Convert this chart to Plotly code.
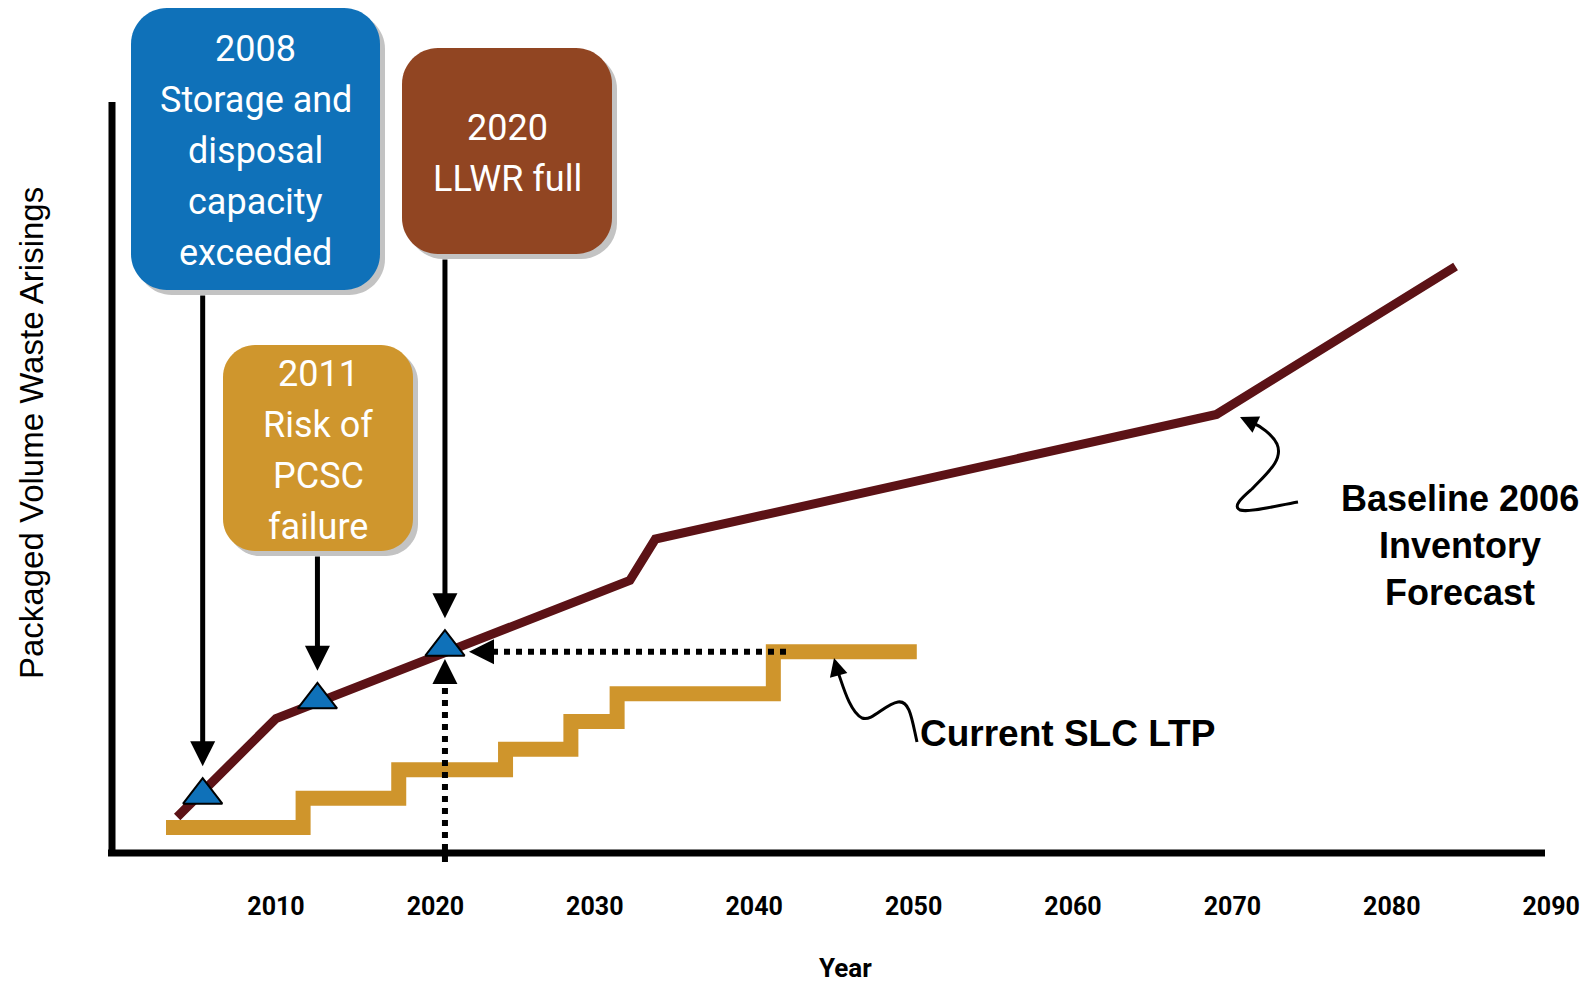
import plotly.graph_objects as go

# ---------------- data ----------------
tick_years = [2010, 2020, 2030, 2040, 2050, 2060, 2070, 2080, 2090]
tick_text = [str(t) for t in tick_years]

baseline_years = [2003.8, 2010.0, 2032.2, 2033.8, 2069.0, 2084.0]
baseline_values = [4.8, 17.9, 36.3, 41.8, 58.4, 78.1]

ltp_years = [2003.1, 2011.7, 2017.7, 2024.4, 2028.5, 2031.4, 2041.2, 2050.2]
ltp_values = [3.4, 7.3, 11.1, 13.8, 17.5, 21.2, 26.8, 26.8]

event_years = [2005.4, 2012.6, 2020.6]
event_values = [7.7, 20.4, 27.4]
event_texts = [
    "2008<br>Storage and<br>disposal<br>capacity<br>exceeded",
    "2011<br>Risk of<br>PCSC<br>failure",
    "2020<br>LLWR full",
]
event_colors = ["#0F71B9", "#CF962D", "#914522"]

# ---------------- layout geometry (page pixels -> axis units) ----------------
W, H = 1592, 983
OFF = 8                    # page offset of the figure (body margin)
PB = 862                   # plot area height in figure px
PX_PER_YEAR = 15.94
PX_PER_UNIT = 7.51
AXIS_PY = 853              # page y of the x-axis line


def dx(px):
    return 2010 + (px - 276) / PX_PER_YEAR


def dy(py):
    return (AXIS_PY - py) / PX_PER_UNIT


def paper_y(py):
    return (PB + OFF - py) / PB


# box rectangles in page px: left, top, right, bottom, corner radius
boxes_px = [(131, 8, 380, 290, 36), (223, 345, 413, 551, 32), (402, 48, 612, 254, 36)]
LINE_GAP = 51

BOX_FONT = "Roboto, Liberation Sans, sans-serif"
TICK_FONT = "Roboto, Liberation Sans, sans-serif"
ARIAL = "Liberation Sans, Arial, sans-serif"


def rrect_path(x0, y0, x1, y1, r):
    k = 0.45 * r
    pts = [
        ("M", [(x0 + r, y0)]),
        ("L", [(x1 - r, y0)]),
        ("C", [(x1 - k, y0), (x1, y0 + k), (x1, y0 + r)]),
        ("L", [(x1, y1 - r)]),
        ("C", [(x1, y1 - k), (x1 - k, y1), (x1 - r, y1)]),
        ("L", [(x0 + r, y1)]),
        ("C", [(x0 + k, y1), (x0, y1 - k), (x0, y1 - r)]),
        ("L", [(x0, y0 + r)]),
        ("C", [(x0, y0 + k), (x0 + k, y0), (x0 + r, y0)]),
    ]
    s = ""
    for cmd, ps in pts:
        s += cmd + " ".join(f"{dx(a):.4f},{dy(b):.4f}" for a, b in ps) + " "
    return s + "Z"


def curve_path(points):
    s = f"M{dx(points[0][0]):.4f},{dy(points[0][1]):.4f} "
    rest = points[1:]
    for i in range(0, len(rest), 3):
        s += "C" + " ".join(f"{dx(a):.4f},{dy(b):.4f}" for a, b in rest[i:i + 3]) + " "
    return s


fig = go.Figure()

fig.add_trace(go.Scatter(
    x=baseline_years, y=baseline_values, mode="lines",
    line=dict(color="#5C1216", width=9), hoverinfo="skip", name="Baseline 2006 Inventory Forecast",
))
fig.add_trace(go.Scatter(
    x=ltp_years, y=ltp_values, mode="lines",
    line=dict(color="#CF952C", width=15, shape="hv"), hoverinfo="skip", name="Current SLC LTP",
))
fig.add_trace(go.Scatter(
    x=event_years, y=event_values, mode="markers", cliponaxis=False,
    marker=dict(symbol="triangle-up", size=34, color="#0F71B9", line=dict(color="black", width=2)),
    hoverinfo="skip", name="events",
))

shapes = []
# axes lines
shapes.append(dict(type="line", xref="x", yref="y", x0=dx(112), x1=dx(112), y0=dy(102), y1=dy(856),
                   line=dict(color="black", width=7), layer="below"))
shapes.append(dict(type="line", xref="x", yref="y", x0=dx(108), x1=dx(1545), y0=0, y1=0,
                   line=dict(color="black", width=7), layer="below"))
# dotted guides
shapes.append(dict(type="line", xref="x", yref="y", x0=dx(480), x1=dx(789),
                   y0=ltp_values[-1], y1=ltp_values[-1],
                   line=dict(color="black", width=6, dash="6px,6px"), layer="above"))
shapes.append(dict(type="line", xref="x", yref="y", x0=event_years[2], x1=event_years[2],
                   y0=dy(862), y1=dy(672),
                   line=dict(color="black", width=6, dash="6px,6px"), layer="above"))
# boxes with shadows
for (x0, y0, x1, y1, r), col in zip(boxes_px, event_colors):
    shapes.append(dict(type="path", xref="x", yref="y", path=rrect_path(x0 + 5, y0 + 5, x1 + 5, y1 + 5, r),
                       fillcolor="#C3C3C3", line=dict(width=0), layer="above"))
    shapes.append(dict(type="path", xref="x", yref="y", path=rrect_path(x0, y0, x1, y1, r),
                       fillcolor=col, line=dict(width=0), layer="above"))
# curly pointers
slc_curve = [(917, 742), (912, 720), (910, 700), (898, 702), (885, 704), (872, 722), (862, 718),
             (850, 712), (843, 686), (838, 672)]
base_curve = [(1298, 502), (1275, 506), (1248, 513), (1240, 510), (1232, 506), (1243, 497), (1252, 489),
              (1266, 474), (1284, 460), (1277, 444), (1272, 434), (1260, 426), (1253, 423)]
for c in (slc_curve, base_curve):
    shapes.append(dict(type="path", xref="x", yref="y", path=curve_path(c),
                       line=dict(color="black", width=3), layer="above"))

annotations = []
for (x0, y0, x1, y1, r), txt, ex, ev in zip(boxes_px, event_texts, event_years, event_values):
    lines = txt.split("<br>")
    cy = (y0 + y1) / 2 + 2
    for i, ln in enumerate(lines):
        ly = cy + (i - (len(lines) - 1) / 2) * LINE_GAP
        annotations.append(dict(x=dx((x0 + x1) / 2), y=dy(ly), xref="x", yref="y", text=ln,
                                showarrow=False, font=dict(family=BOX_FONT, size=36, color="white"),
                                xanchor="center", yanchor="middle"))
    annotations.append(dict(x=ex, y=ev, xref="x", yref="y", ax=ex, ay=dy(y1 + 4), axref="x", ayref="y",
                            text="", showarrow=True, arrowhead=2, arrowwidth=5, arrowsize=1.0,
                            arrowcolor="black", standoff=29))
# dotted arrow heads
annotations.append(dict(x=dx(469), y=ltp_values[-1], xref="x", yref="y", ax=22, ay=0, text="",
                        showarrow=True, arrowhead=2, arrowwidth=5, arrowsize=1.0, arrowcolor="black"))
annotations.append(dict(x=event_years[2], y=dy(659), xref="x", yref="y", ax=0, ay=22, text="",
                        showarrow=True, arrowhead=2, arrowwidth=5, arrowsize=1.0, arrowcolor="black"))
# curly pointer heads
annotations.append(dict(x=dx(834), y=dy(658), xref="x", yref="y", ax=4, ay=15, text="",
                        showarrow=True, arrowhead=2, arrowwidth=3, arrowsize=1.2, arrowcolor="black"))
annotations.append(dict(x=dx(1240), y=dy(417), xref="x", yref="y", ax=15, ay=7, text="",
                        showarrow=True, arrowhead=2, arrowwidth=3, arrowsize=1.2, arrowcolor="black"))
# series labels
annotations.append(dict(x=dx(1067), y=dy(733), xref="x", yref="y", text="<b>Current SLC LTP</b>",
                        showarrow=False, font=dict(family=ARIAL, size=37, color="black")))
annotations.append(dict(x=dx(1460), y=dy(545), xref="x", yref="y",
                        text="<b>Baseline 2006<br>Inventory<br>Forecast</b>",
                        showarrow=False, align="center", font=dict(family=ARIAL, size=36, color="black")))
# axis titles
annotations.append(dict(x=dx(31), y=dy(433), xref="x", yref="y", text="Packaged Volume Waste Arisings",
                        textangle=-90, showarrow=False, font=dict(family=ARIAL, size=33, color="black")))
annotations.append(dict(x=dx(845), y=paper_y(968), xref="x", yref="paper", yanchor="middle",
                        text="<b>Year</b>", showarrow=False,
                        font=dict(family=TICK_FONT, size=26, color="black")))

fig.update_layout(
    width=W, height=H,
    margin=dict(l=0, r=0, t=0, b=H - PB),
    paper_bgcolor="white", plot_bgcolor="white",
    showlegend=False,
    shapes=shapes, annotations=annotations,
    xaxis=dict(range=[dx(OFF), dx(OFF + W)], tickvals=tick_years, ticktext=tick_text,
               tickfont=dict(family=TICK_FONT, size=25, color="black", weight="bold"),
               ticks="outside", ticklen=14, tickcolor="rgba(0,0,0,0)",
               showgrid=False, zeroline=False, showline=False, fixedrange=True),
    yaxis=dict(range=[dy(PB + OFF), dy(OFF)], visible=False, fixedrange=True),
)

fig.write_html("out.html")
